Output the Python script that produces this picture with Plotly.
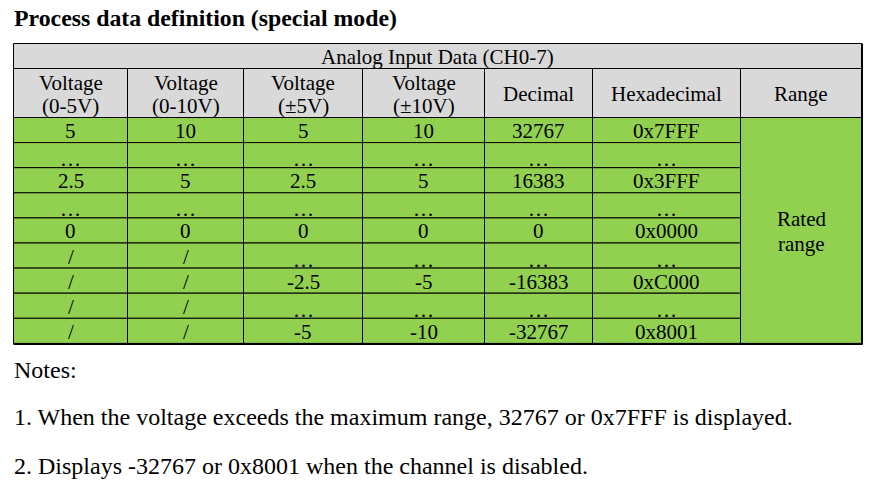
import plotly.graph_objects as go

# --- Table content ---
TITLE = "Process data definition (special mode)"
GROUP_HEADER = "Analog Input Data (CH0-7)"
COLUMNS = ["Voltage<br>(0-5V)", "Voltage<br>(0-10V)", "Voltage<br>(±5V)",
           "Voltage<br>(±10V)", "Decimal", "Hexadecimal", "Range"]

v_0_5V   = ["5", "…", "2.5", "…", "0", "/", "/", "/", "/"]
v_0_10V  = ["10", "…", "5", "…", "0", "/", "/", "/", "/"]
v_pm5V   = ["5", "…", "2.5", "…", "0", "…", "-2.5", "…", "-5"]
v_pm10V  = ["10", "…", "5", "…", "0", "…", "-5", "…", "-10"]
decimal  = ["32767", "…", "16383", "…", "0", "…", "-16383", "…", "-32767"]
hexa     = ["0x7FFF", "…", "0x3FFF", "…", "0x0000", "…", "0xC000", "…", "0x8001"]
RANGE_LABEL = "Rated<br>range"

NOTES = [
    "Notes:",
    "1. When the voltage exceeds the maximum range, 32767 or 0x7FFF is displayed.",
    "2. Displays -32767 or 0x8001 when the channel is disabled.",
]

# --- Layout geometry (pixels, y downwards) ---
W, H = 873, 495
COL_EDGES = [13.5, 127.5, 243.5, 362.5, 484.5, 592.5, 740.5, 861.5]
TOP, HDR1, HDR2 = 43.5, 68.5, 117.5
ROW_H = 25.1
LINE_GAP = 23          # spacing of two-line labels
GREEN = "#92D050"
GRAY = "#D9D9D9"
FONT = "Liberation Serif"
CELL_FS = 21

data_cols = [v_0_5V, v_0_10V, v_pm5V, v_pm10V, decimal, hexa]
n_rows = len(decimal)
row_edges = [HDR2 + i * ROW_H for i in range(n_rows + 1)]
BOTTOM = row_edges[-1]

fig = go.Figure()
shapes = []
annots = []


def cell(x0, x1, y0, y1, fill):
    shapes.append(dict(type="rect", xref="x", yref="y", x0=x0, x1=x1, y0=y0, y1=y1,
                       fillcolor=fill, line=dict(color="black", width=1), layer="below"))


def text(x, y, s, size=CELL_FS, xanchor="center", yanchor="middle"):
    annots.append(dict(x=x, y=y, xref="x", yref="y", text=s, showarrow=False,
                       xanchor=xanchor, yanchor=yanchor,
                       font=dict(family=FONT, size=size, color="black")))


def multiline(x, yc, s, gap=LINE_GAP):
    # draw "a<br>b" as separate lines with a tighter spacing than plotly's default
    parts = s.split("<br>")
    n = len(parts)
    for k, p in enumerate(parts):
        text(x, yc + (k - (n - 1) / 2) * gap, p)


# group header
cell(COL_EDGES[0], COL_EDGES[-1], TOP, HDR1, GRAY)
text((COL_EDGES[0] + COL_EDGES[-1]) / 2, (TOP + HDR1) / 2 + 1, GROUP_HEADER)

# column headers
for j, name in enumerate(COLUMNS):
    x0, x1 = COL_EDGES[j], COL_EDGES[j + 1]
    cell(x0, x1, HDR1, HDR2, GRAY)
    multiline((x0 + x1) / 2, (HDR1 + HDR2) / 2 + 1, name)

# data cells
for j, col in enumerate(data_cols):
    x0, x1 = COL_EDGES[j], COL_EDGES[j + 1]
    for i, val in enumerate(col):
        y0, y1 = row_edges[i], row_edges[i + 1]
        cell(x0, x1, y0, y1, GREEN)
        dy = 4 if val == "…" else 1
        text((x0 + x1) / 2, (y0 + y1) / 2 + dy, val)

# merged range cell
cell(COL_EDGES[-2], COL_EDGES[-1], HDR2, BOTTOM, GREEN)
multiline((COL_EDGES[-2] + COL_EDGES[-1]) / 2, (HDR2 + BOTTOM) / 2 + 1, RANGE_LABEL, gap=25)

# thicker bottom / right outline
shapes.append(dict(type="line", xref="x", yref="y", x0=COL_EDGES[0], x1=COL_EDGES[-1] + 1,
                   y0=BOTTOM + 0.5, y1=BOTTOM + 0.5, line=dict(color="black", width=2)))
shapes.append(dict(type="line", xref="x", yref="y", x0=COL_EDGES[-1] + 0.5, x1=COL_EDGES[-1] + 0.5,
                   y0=TOP, y1=BOTTOM + 1, line=dict(color="black", width=2)))

# title and notes
text(12, 18, "<b>" + TITLE + "</b>", size=23.8, xanchor="left")
for k, note in enumerate(NOTES):
    text(12, [370, 417, 466][k], note, size=24, xanchor="left")

fig.update_layout(
    width=W, height=H,
    margin=dict(l=0, r=0, t=0, b=0),
    paper_bgcolor="white", plot_bgcolor="white",
    xaxis=dict(range=[0, W], visible=False, fixedrange=True),
    yaxis=dict(range=[H, 0], visible=False, fixedrange=True),
    shapes=shapes, annotations=annots, showlegend=False,
)

fig.write_html("out.html", config={"displayModeBar": False},
               post_script="document.body.style.margin = '0';")
